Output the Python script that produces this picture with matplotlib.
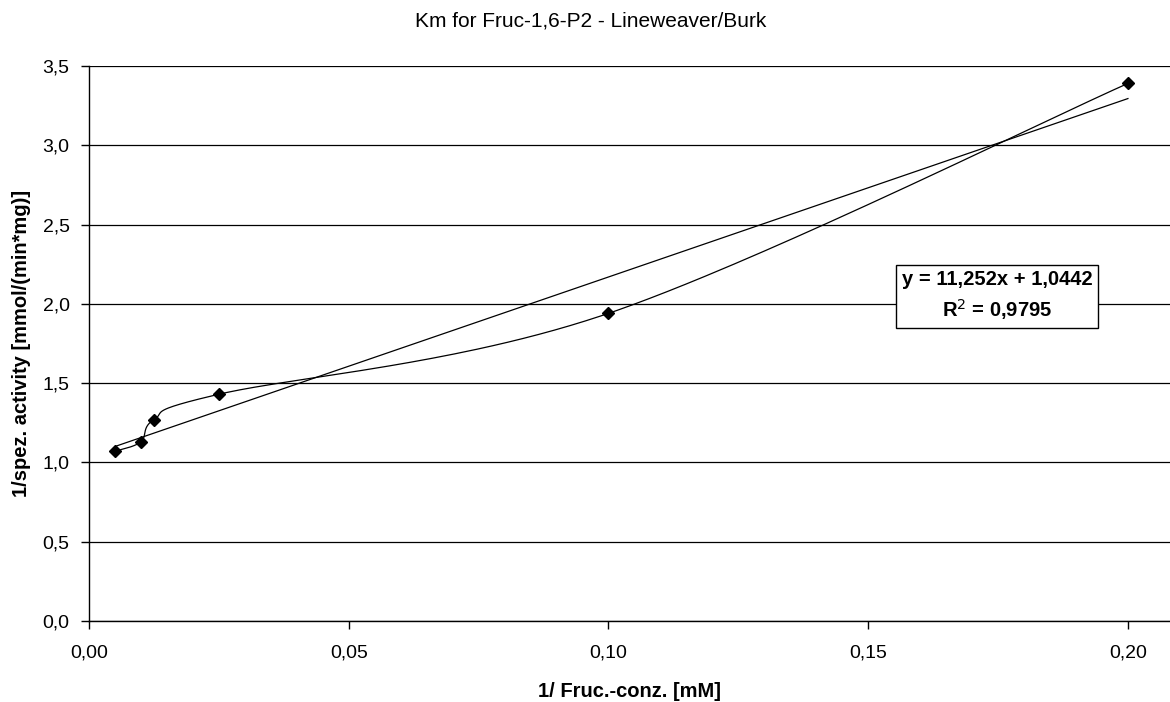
import numpy as np
import matplotlib
matplotlib.use("Agg")
import matplotlib.pyplot as plt

# Lineweaver-Burk data: 1/[S] (1/mM) vs 1/v
inv_conc = [0.005, 0.01, 0.0125, 0.025, 0.10, 0.20]
inv_activity = [1.07, 1.13, 1.27, 1.43, 1.94, 3.39]

# Linear trendline parameters
slope = 11.252
intercept = 1.0442
r_squared = 0.9795

x_ticks = [0.00, 0.05, 0.10, 0.15, 0.20]
y_ticks = [0.0, 0.5, 1.0, 1.5, 2.0, 2.5, 3.0, 3.5]

plt.rcParams['font.family'] = ['Liberation Sans', 'DejaVu Sans']


def smooth_curve(xs, ys, n=60):
    """Bezier smoothing through points (spreadsheet-style smoothed line)."""
    pts = np.column_stack([xs, ys]).astype(float)
    out = []
    for i in range(len(pts) - 1):
        p0 = pts[i - 1] if i > 0 else pts[i]
        p1 = pts[i]
        p2 = pts[i + 1]
        p3 = pts[i + 2] if i + 2 < len(pts) else pts[i + 1]
        c1 = p1 + (p2 - p0) / 6.0
        c2 = p2 - (p3 - p1) / 6.0
        t = np.linspace(0, 1, n)[:, None]
        seg = ((1 - t) ** 3 * p1 + 3 * (1 - t) ** 2 * t * c1
               + 3 * (1 - t) * t ** 2 * c2 + t ** 3 * p2)
        out.append(seg if i == 0 else seg[1:])
    seg = np.vstack(out)
    return seg[:, 0], seg[:, 1]


fig = plt.figure(figsize=(11.7, 7.02), dpi=100)
ax = fig.add_axes([0.0761, 0.1154, 0.9239, 0.7906])

# scale so the Bezier is built in screen-proportional space
xs = np.array(inv_conc)
ys = np.array(inv_activity)
sx, sy = 5195.0, 158.6
cx, cy = smooth_curve(xs * sx, ys * sy)
ax.plot(cx / sx, cy / sy, color='black', lw=0.9, zorder=3)

ax.plot(inv_conc, inv_activity, linestyle='none', marker='D', markersize=6,
        color='black', zorder=4)

tx = np.array([inv_conc[0], inv_conc[-1]])
ax.plot(tx, slope * tx + intercept, color='black', lw=0.9, zorder=3)

ax.set_xlim(0, 0.2081)
ax.set_ylim(0, 3.5)
ax.set_xticks(x_ticks)
ax.set_yticks(y_ticks)
ax.set_xticklabels([f"{v:.2f}".replace('.', ',') for v in x_ticks], fontsize=14)
ax.set_yticklabels([f"{v:.1f}".replace('.', ',') for v in y_ticks], fontsize=14)
ax.tick_params(direction='out', length=6, width=1, colors='black')
ax.tick_params(axis='x', pad=11)
ax.tick_params(axis='y', pad=8)

ax.grid(axis='y', color='black', lw=0.9)
ax.set_axisbelow(True)
for side in ['top', 'right']:
    ax.spines[side].set_visible(False)
for side in ['left', 'bottom']:
    ax.spines[side].set_color('black')
    ax.spines[side].set_linewidth(1)

ax.set_xlabel('1/ Fruc.-conz. [mM]', fontsize=14.5, fontweight='bold', labelpad=15)
ax.set_ylabel('1/spez. activity [mmol/(min*mg)]', fontsize=14.5, fontweight='bold',
              labelpad=8)
fig.text(0.505, 0.970, 'Km for Fruc-1,6-P2 - Lineweaver/Burk', ha='center', va='center',
         fontsize=15)

eq = (f"y = {slope:.3f}x + {intercept:.4f}".replace('.', ',')
      + "\n" + r"R$^2$ = " + f"{r_squared:.4f}".replace('.', ','))
ax.text(0.1748, 2.05, eq, ha='center', va='center', fontsize=14.5, fontweight='bold',
        linespacing=1.4, zorder=5,
        bbox=dict(boxstyle='square,pad=0.3', facecolor='white', edgecolor='black', lw=1))

fig.savefig('out.png', dpi=100)
